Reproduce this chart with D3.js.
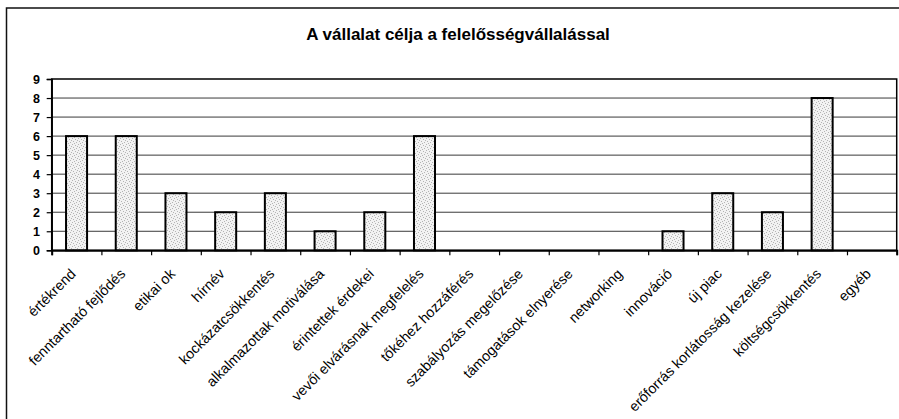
<!DOCTYPE html>
<html>
<head>
<meta charset="utf-8">
<script src="https://cdn.jsdelivr.net/npm/d3@7"></script>
<style>
  html, body { margin: 0; padding: 0; background: #fff; }
  svg { display: block; }
</style>
</head>
<body>
<svg id="chart" width="899" height="419"></svg>
<script>
const title = "A vállalat célja a felelősségvállalással";
const categories = [
  "értékrend",
  "fenntartható fejlődés",
  "etikai ok",
  "hírnév",
  "kockázatcsökkentés",
  "alkalmazottak motiválása",
  "érintettek érdekei",
  "vevői elvárásnak megfelelés",
  "tőkéhez hozzáférés",
  "szabályozás megelőzése",
  "támogatások elnyerése",
  "networking",
  "innováció",
  "új piac",
  "erőforrás korlátosság kezelése",
  "költségcsökkentés",
  "egyéb"
];
const values = [6, 6, 3, 2, 3, 1, 2, 6, 0, 0, 0, 0, 1, 3, 2, 8, 0];
const yTicks = [0, 1, 2, 3, 4, 5, 6, 7, 8, 9];

const svg = d3.select("#chart");
const plot = { left: 51.7, right: 896.7, top: 79, bottom: 250.3 };

// stipple pattern for bars
const defs = svg.append("defs");
const pat = defs.append("pattern")
  .attr("id", "stipple").attr("patternUnits", "userSpaceOnUse")
  .attr("width", 6).attr("height", 6);
pat.append("rect").attr("width", 6).attr("height", 6).attr("fill", "#f2f2f2");
[[0,0],[3,1],[1,3],[4,4],[5,2],[2,5]].forEach(([px,py]) => {
  pat.append("rect").attr("x", px).attr("y", py).attr("width", 1).attr("height", 1).attr("fill", "#b4b4b4");
});

// outer chart border (cropped on right/bottom)
svg.append("path")
  .attr("d", "M6.5,419 L6.5,8 L899,8")
  .attr("fill", "none").attr("stroke", "#111").attr("stroke-width", 1.5);

// title
svg.append("text")
  .attr("x", 458).attr("y", 40)
  .attr("text-anchor", "middle")
  .attr("font-family", "Arial, 'Liberation Sans', sans-serif")
  .attr("font-weight", "bold").attr("font-size", 17)
  .attr("fill", "#000")
  .text(title);

const x = d3.scaleBand()
  .domain(categories)
  .range([plot.left, plot.right])
  .paddingInner(0.577)
  .paddingOuter(0.2885);

const xb = d3.scaleLinear().domain([0, categories.length]).range([plot.left, plot.right]);

const y = d3.scaleLinear().domain([0, 9]).range([plot.bottom, plot.top]);

// gridlines
svg.append("g")
  .selectAll("line")
  .data(yTicks.filter(t => t > 0 && t < 9))
  .join("line")
  .attr("x1", plot.left).attr("x2", plot.right)
  .attr("y1", d => y(d)).attr("y2", d => y(d))
  .attr("stroke", "#3a3a3a").attr("stroke-width", 1);

// plot border
svg.append("rect")
  .attr("x", plot.left).attr("y", plot.top)
  .attr("width", plot.right - plot.left).attr("height", plot.bottom - plot.top)
  .attr("fill", "none").attr("stroke", "#000").attr("stroke-width", 1.5);

// bars
svg.append("g")
  .selectAll("rect")
  .data(values.map((v, i) => ({ c: categories[i], v })).filter(d => d.v > 0))
  .join("rect")
  .attr("x", d => x(d.c))
  .attr("y", d => y(d.v))
  .attr("width", x.bandwidth())
  .attr("height", d => y(0) - y(d.v))
  .attr("fill", "url(#stipple)")
  .attr("stroke", "#000").attr("stroke-width", 2);

// y axis
const yAxis = svg.append("g")
  .attr("transform", `translate(${plot.left},0)`)
  .call(d3.axisLeft(y).tickValues(yTicks).tickFormat(d3.format("d")).tickSize(5).tickPadding(6.7));
yAxis.select(".domain").attr("stroke", "#000").attr("stroke-width", 1.5);
yAxis.selectAll(".tick line").attr("stroke", "#000").attr("stroke-width", 1.2);
yAxis.selectAll(".tick text")
  .attr("font-family", "Arial, 'Liberation Sans', sans-serif")
  .attr("font-weight", "bold").attr("font-size", 12.5).attr("fill", "#000");

// x axis: ticks at category boundaries
const xAxis = svg.append("g")
  .attr("transform", `translate(0,${plot.bottom})`)
  .call(d3.axisBottom(xb).tickValues(d3.range(categories.length + 1)).tickFormat("").tickSize(5));
xAxis.select(".domain").attr("stroke", "#000").attr("stroke-width", 2);
xAxis.selectAll(".tick line").attr("stroke", "#000").attr("stroke-width", 1.2);

// rotated category labels
svg.append("g")
  .selectAll("text")
  .data(categories)
  .join("text")
  .attr("transform", d => `translate(${x(d) + x.bandwidth() / 2},${plot.bottom + 24.5}) rotate(-45)`)
  .attr("text-anchor", "end")
  .attr("font-family", "Arial, 'Liberation Sans', sans-serif")
  .attr("font-size", 14.3)
  .attr("fill", "#000")
  .text(d => d);
</script>
</body>
</html>
